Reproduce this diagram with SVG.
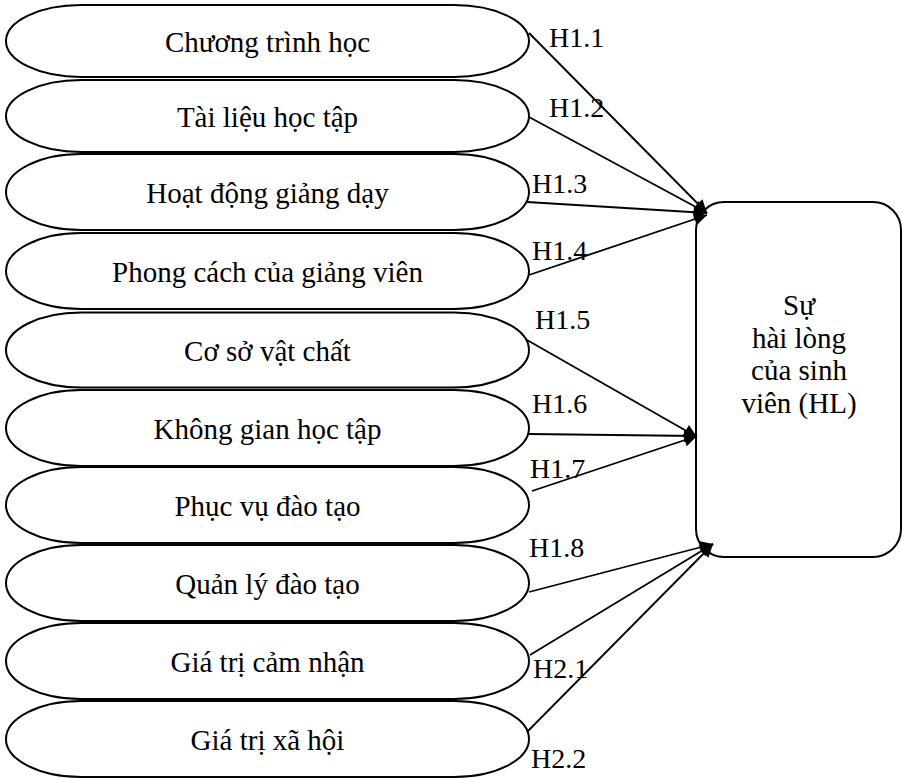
<svg xmlns="http://www.w3.org/2000/svg" width="902" height="778" viewBox="0 0 902 778">
<style>
.node .ov{fill:#fff;stroke:#000;stroke-width:2}
.box{fill:#fff;stroke:#000;stroke-width:2}
text{font-family:"Liberation Serif","Times New Roman",serif;fill:#000}
.t{font-size:29px;text-anchor:middle}
.lbl{font-size:28px}
.conn line{stroke:#000;stroke-width:1.8;marker-end:url(#ah)}
</style>
<defs>
<marker id="ah" viewBox="0 0 10 10" refX="10" refY="5" markerWidth="18" markerHeight="13" markerUnits="userSpaceOnUse" orient="auto">
<path d="M0,0 L10,5 L0,10 z" fill="#000"/>
</marker>
</defs>
<rect width="902" height="778" fill="#fff"/>
<g id="n1" class="node"><rect class="ov" x="6" y="5" width="523" height="72" rx="75" ry="36"/><text class="t" x="267.5" y="52">Chương trình học</text></g>
<g id="n2" class="node"><rect class="ov" x="6" y="80" width="523" height="72" rx="75" ry="36"/><text class="t" x="267.5" y="127">Tài liệu học tập</text></g>
<g id="n3" class="node"><rect class="ov" x="6" y="154" width="523" height="76" rx="75" ry="38"/><text class="t" x="267.5" y="203">Hoạt động giảng dạy</text></g>
<g id="n4" class="node"><rect class="ov" x="6" y="233" width="523" height="76" rx="75" ry="38"/><text class="t" x="267.5" y="282">Phong cách của giảng viên</text></g>
<g id="n5" class="node"><rect class="ov" x="6" y="312.5" width="523" height="75" rx="75" ry="37.5"/><text class="t" x="267.5" y="361">Cơ sở vật chất</text></g>
<g id="n6" class="node"><rect class="ov" x="6" y="390" width="523" height="76" rx="75" ry="38"/><text class="t" x="267.5" y="439">Không gian học tập</text></g>
<g id="n7" class="node"><rect class="ov" x="6" y="467" width="523" height="76" rx="75" ry="38"/><text class="t" x="267.5" y="516">Phục vụ đào tạo</text></g>
<g id="n8" class="node"><rect class="ov" x="6" y="545" width="523" height="76" rx="75" ry="38"/><text class="t" x="267.5" y="594">Quản lý đào tạo</text></g>
<g id="n9" class="node"><rect class="ov" x="6" y="623" width="523" height="76" rx="75" ry="38"/><text class="t" x="267.5" y="672">Giá trị cảm nhận</text></g>
<g id="n10" class="node"><rect class="ov" x="6" y="701" width="523" height="76" rx="75" ry="38"/><text class="t" x="267.5" y="750">Giá trị xã hội</text></g>
<g id="hl" class="node">
<rect class="box" x="696" y="202" width="205" height="355" rx="28" ry="28"/>
<text class="t" x="799" y="315">Sự</text>
<text class="t" x="799" y="348">hài lòng</text>
<text class="t" x="799" y="380">của sinh</text>
<text class="t" x="799" y="413">viên (HL)</text>
</g>
<g id="connectors" class="conn">
<line x1="529" y1="33" x2="707" y2="213"/>
<line x1="529" y1="117" x2="707" y2="213"/>
<line x1="527" y1="202" x2="707" y2="213"/>
<line x1="529" y1="275" x2="707" y2="215"/>
<line x1="527" y1="340" x2="697" y2="437"/>
<line x1="529" y1="434" x2="697" y2="436"/>
<line x1="532" y1="491" x2="697" y2="436"/>
<line x1="529" y1="592" x2="713" y2="544"/>
<line x1="530" y1="655" x2="713" y2="544"/>
<line x1="527" y1="732" x2="713" y2="544"/>
</g>
<g id="labels">
<text class="lbl" x="549" y="47">H1.1</text>
<text class="lbl" x="549" y="117">H1.2</text>
<text class="lbl" x="532" y="193">H1.3</text>
<text class="lbl" x="532" y="260">H1.4</text>
<text class="lbl" x="535" y="329">H1.5</text>
<text class="lbl" x="532" y="413">H1.6</text>
<text class="lbl" x="530" y="478">H1.7</text>
<text class="lbl" x="529" y="557">H1.8</text>
<text class="lbl" x="533" y="678">H2.1</text>
<text class="lbl" x="531" y="768">H2.2</text>
</g>
</svg>
